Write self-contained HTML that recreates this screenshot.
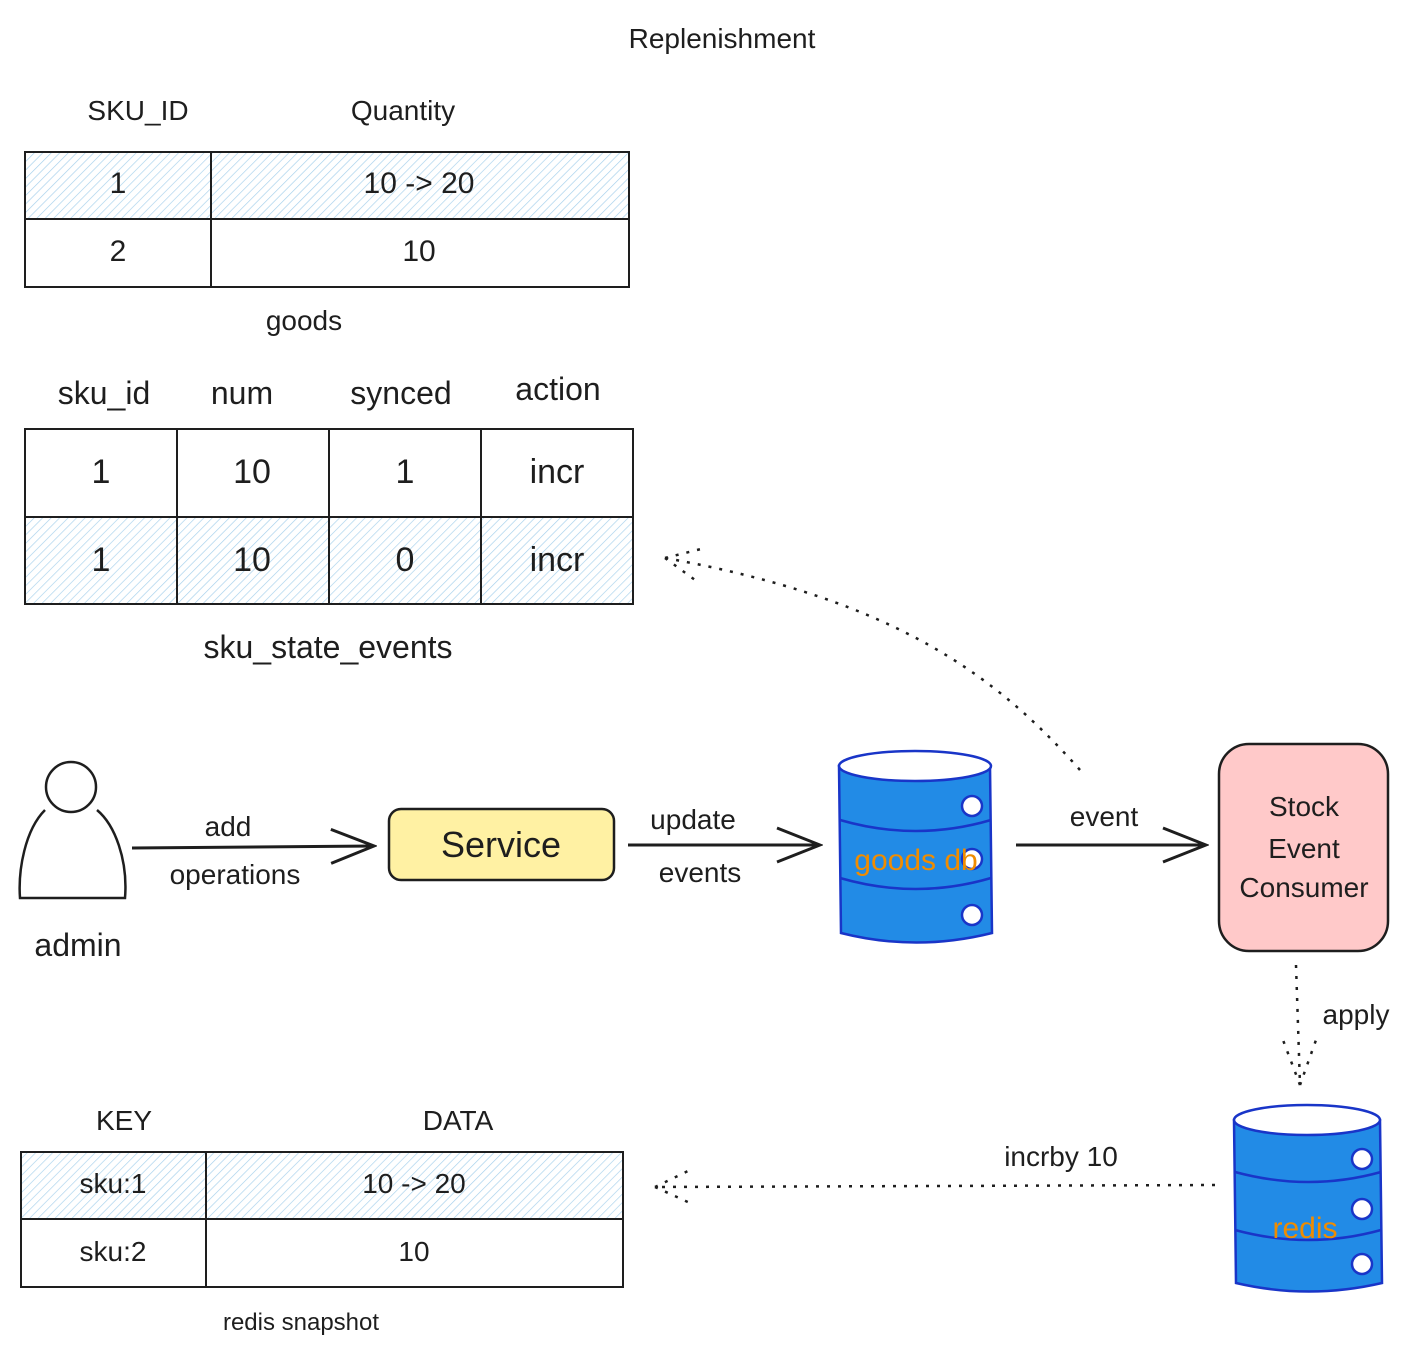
<!DOCTYPE html>
<html><head><meta charset="utf-8"><style>
html,body{margin:0;padding:0;background:#fff}
svg text{font-family:"Liberation Sans",sans-serif;fill:#1e1e1e}
</style></head><body>
<svg width="1416" height="1359" viewBox="0 0 1416 1359" xmlns="http://www.w3.org/2000/svg">
<defs>
<pattern id="h" width="6" height="6" patternUnits="userSpaceOnUse" patternTransform="rotate(45)">
<rect width="6" height="6" fill="#fff"/><line x1="0" y1="0" x2="0" y2="6" stroke="#a5d0ec" stroke-width="1.3"/>
</pattern>
<marker id="a" markerWidth="48" markerHeight="40" refX="45" refY="20" orient="auto" markerUnits="userSpaceOnUse"><path d="M2,3 L45,20 L2,37" fill="none" stroke="#1e1e1e" stroke-width="3"/></marker>
</defs>
<g text-anchor="middle" font-size="28">
<text x="722" y="48">Replenishment</text>
<text x="138" y="120">SKU_ID</text>
<text x="403" y="120">Quantity</text>
<text x="304" y="330">goods</text>
<text x="104" y="404" font-size="32">sku_id</text>
<text x="242" y="404" font-size="32">num</text>
<text x="401" y="404" font-size="32">synced</text>
<text x="558" y="400" font-size="32">action</text>
<text x="328" y="658" font-size="32">sku_state_events</text>
<text x="124" y="1130">KEY</text>
<text x="458" y="1130">DATA</text>
<text x="301" y="1330" font-size="24">redis snapshot</text>
</g>
<g stroke="#1e1e1e" stroke-width="2">
<rect x="25" y="152" width="604" height="67" fill="url(#h)"/>
<rect x="25" y="219" width="604" height="68" fill="#fff"/>
<line x1="211" y1="152" x2="211" y2="287"/>
</g>
<g text-anchor="middle" font-size="30">
<text x="118" y="193">1</text><text x="419" y="193">10 -&gt; 20</text>
<text x="118" y="261">2</text><text x="419" y="261">10</text>
</g>
<g stroke="#1e1e1e" stroke-width="2">
<rect x="25" y="429" width="608" height="88" fill="#fff"/>
<rect x="25" y="517" width="608" height="87" fill="url(#h)"/>
<line x1="177" y1="429" x2="177" y2="604"/><line x1="329" y1="429" x2="329" y2="604"/><line x1="481" y1="429" x2="481" y2="604"/>
</g>
<g text-anchor="middle" font-size="34">
<text x="101" y="483">1</text><text x="252" y="483">10</text><text x="405" y="483">1</text><text x="557" y="483">incr</text>
<text x="101" y="571">1</text><text x="252" y="571">10</text><text x="405" y="571">0</text><text x="557" y="571">incr</text>
</g>
<g stroke="#1e1e1e" stroke-width="2">
<rect x="21" y="1152" width="602" height="67" fill="url(#h)"/>
<rect x="21" y="1219" width="602" height="68" fill="#fff"/>
<line x1="206" y1="1152" x2="206" y2="1287"/>
</g>
<g text-anchor="middle" font-size="28">
<text x="113" y="1193">sku:1</text><text x="414" y="1193">10 -&gt; 20</text>
<text x="113" y="1261">sku:2</text><text x="414" y="1261">10</text>
</g>
<g fill="none" stroke="#1e1e1e" stroke-width="2.5">
<circle cx="71" cy="787" r="25"/>
<path d="M45,810 C25,830 18,870 20,898 L125,898 C128,860 115,825 97,810"/>
</g>
<text x="78" y="956" font-size="32" text-anchor="middle">admin</text>
<g stroke="#1e1e1e" stroke-width="3" fill="none">
<line x1="132" y1="848" x2="374" y2="846" marker-end="url(#a)"/>
<line x1="628" y1="845" x2="820" y2="845" marker-end="url(#a)"/>
<line x1="1016" y1="845" x2="1206" y2="845" marker-end="url(#a)"/>
</g>
<g stroke="#1e1e1e" stroke-width="2.5" fill="none" stroke-dasharray="3 8">
<path d="M1080,770 C1000,680 900,600 665,558"/>
<path d="M665,558 L705,548 M665,558 L695,580"/>
<line x1="1296" y1="965" x2="1300" y2="1085"/>
<path d="M1300,1085 L1283,1040 M1300,1085 L1316,1040"/>
<line x1="1215" y1="1185" x2="655" y2="1187"/>
<path d="M655,1187 L690,1170 M655,1187 L690,1203"/>
</g>
<g text-anchor="middle" font-size="28">
<text x="228" y="836">add</text>
<text x="235" y="884">operations</text>
<text x="693" y="829">update</text>
<text x="700" y="882">events</text>
<text x="1104" y="826">event</text>
<text x="1356" y="1024">apply</text>
<text x="1061" y="1166">incrby 10</text>
</g>
<rect x="389" y="809" width="225" height="71" rx="12" fill="#fff1a3" stroke="#1e1e1e" stroke-width="2.5"/>
<text x="501" y="857" font-size="36" text-anchor="middle">Service</text>
<rect x="1219" y="744" width="169" height="207" rx="30" fill="#ffc9c9" stroke="#1e1e1e" stroke-width="2.5"/>
<g text-anchor="middle" font-size="28">
<text x="1304" y="816">Stock</text><text x="1304" y="858">Event</text><text x="1304" y="897">Consumer</text>
</g>
<g stroke="#1935c8" stroke-width="2.5">
<path d="M839,766 L841,933 Q916,952 992,933 L990,766 Z" fill="#228be6"/>
<ellipse cx="915" cy="766" rx="76" ry="15" fill="#fff"/>
<path d="M840,820 Q916,842 991,820 M840,878 Q916,900 991,878" fill="none"/>
<circle cx="972" cy="806" r="10" fill="#fff"/><circle cx="972" cy="859" r="10" fill="#fff"/><circle cx="972" cy="915" r="10" fill="#fff"/>
</g>
<text x="916" y="870" font-size="30" text-anchor="middle" style="fill:#f08c00">goods db</text>
<g stroke="#1935c8" stroke-width="2.5">
<path d="M1234,1120 L1236,1283 Q1309,1300 1382,1283 L1380,1120 Z" fill="#228be6"/>
<ellipse cx="1307" cy="1120" rx="73" ry="15" fill="#fff"/>
<path d="M1235,1172 Q1309,1192 1381,1172 M1235,1230 Q1309,1250 1381,1230" fill="none"/>
<circle cx="1362" cy="1159" r="10" fill="#fff"/><circle cx="1362" cy="1209" r="10" fill="#fff"/><circle cx="1362" cy="1264" r="10" fill="#fff"/>
</g>
<text x="1305" y="1238" font-size="30" text-anchor="middle" style="fill:#f08c00">redis</text>
</svg>
</body></html>
